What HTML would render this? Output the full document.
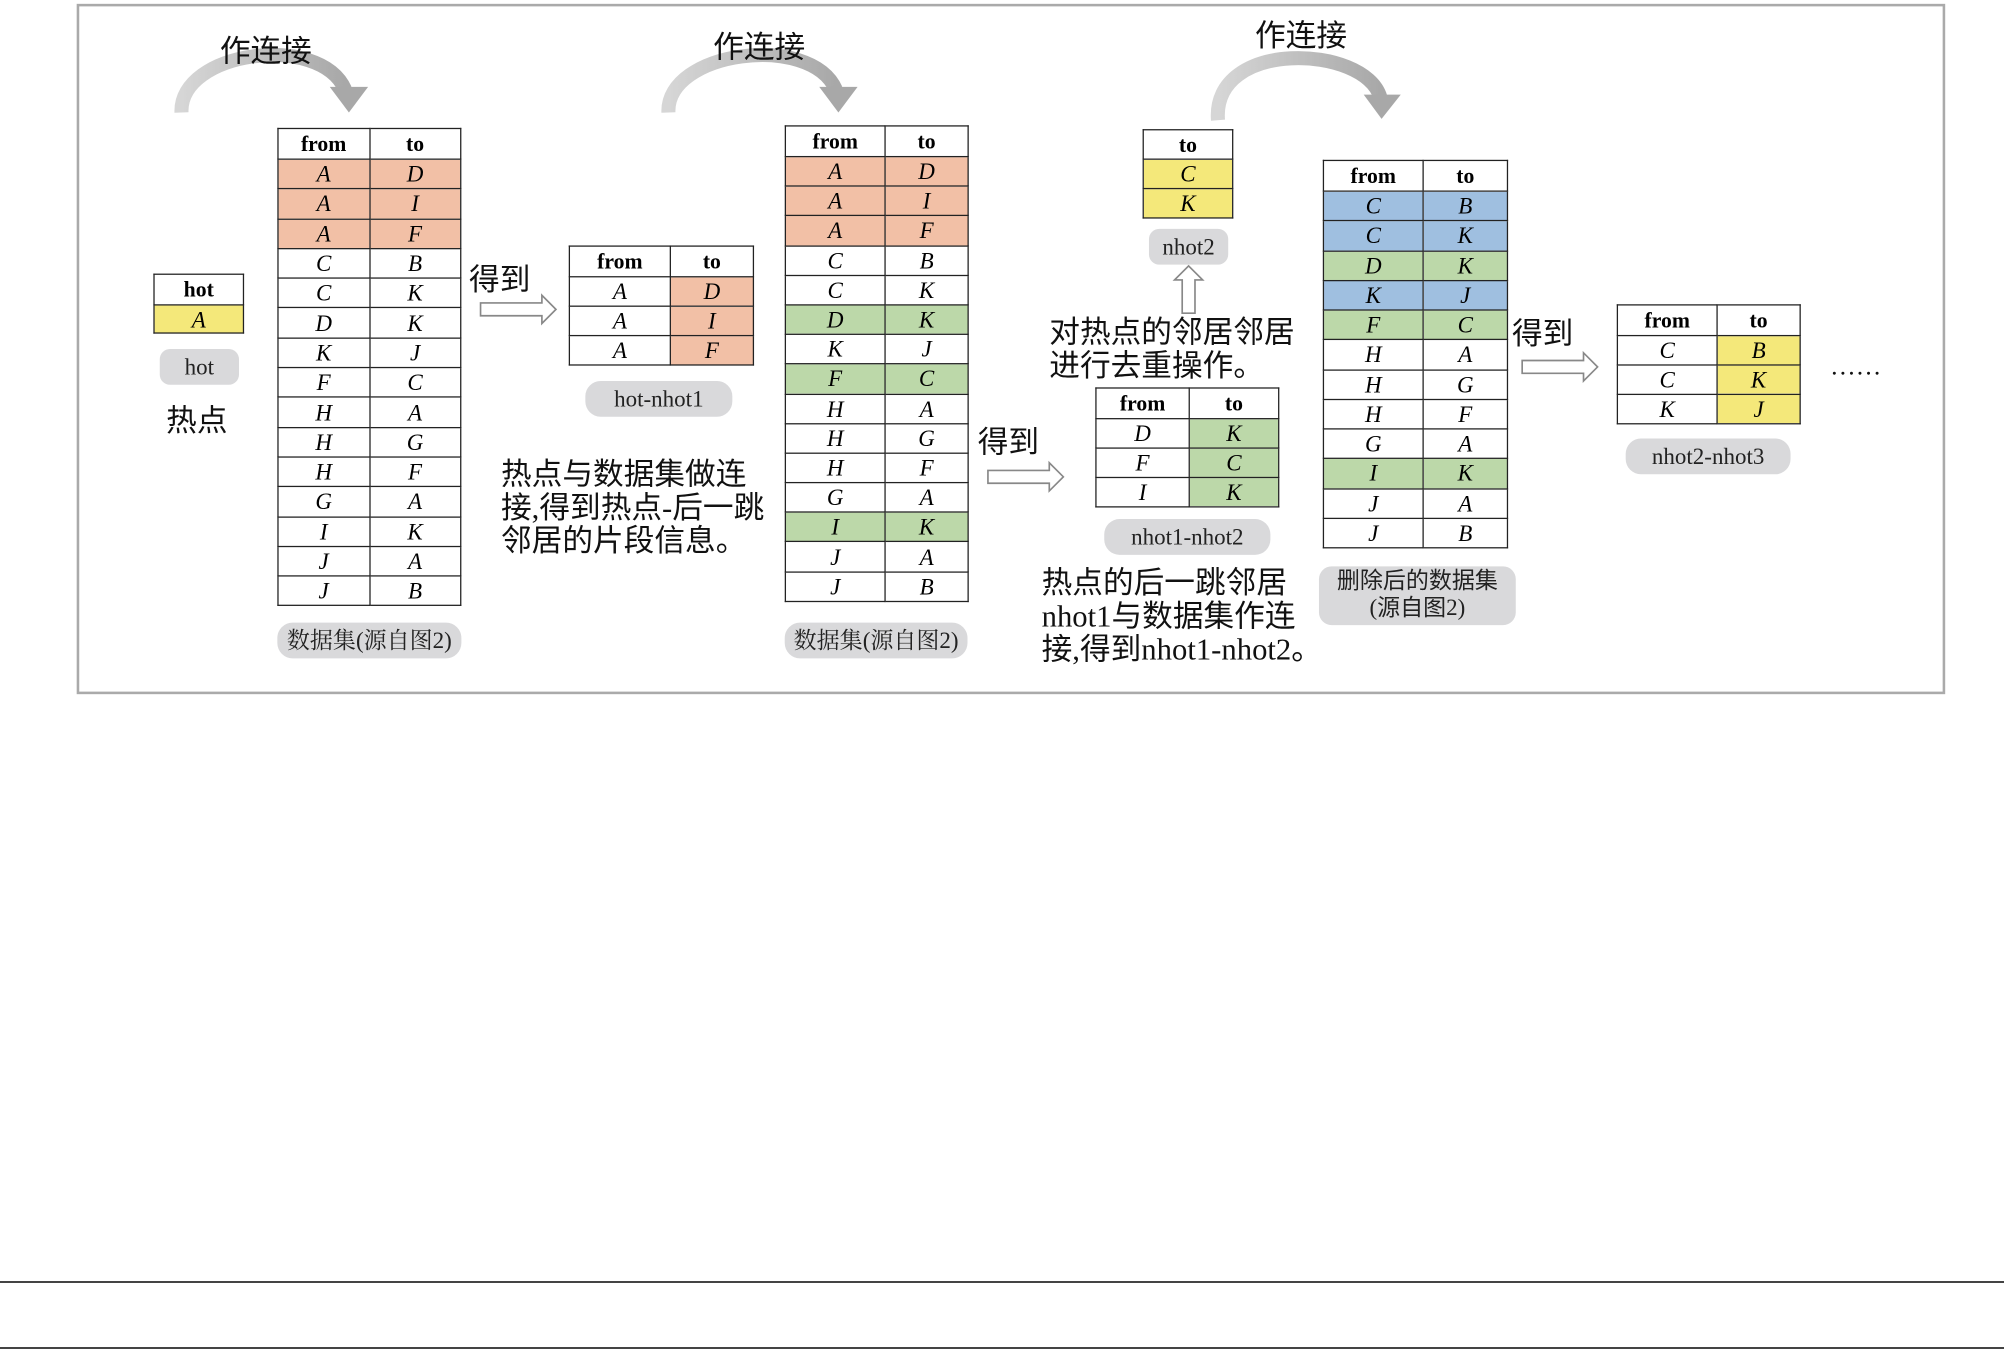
<!DOCTYPE html>
<html><head><meta charset="utf-8"><style>
html,body{margin:0;padding:0;background:#fff;}
body{width:2004px;height:1350px;overflow:hidden;position:relative;}
#c{position:absolute;left:0;top:0;width:1568px;height:1056px;transform:scale(1.27806,1.2784);transform-origin:0 0;font-family:"Liberation Serif","Noto Serif CJK SC",serif;}
.a{position:absolute;}
table{position:absolute;border-collapse:collapse;table-layout:fixed;}
td{border:1.5px solid #222;padding:0;text-align:center;font-size:18px;font-style:italic;line-height:1;overflow:hidden;}
tr.h td{font-style:normal;font-size:17px;font-weight:bold;}
.o{background:#f2c0a6}.y{background:#f4e87a}.g{background:#bcd8a9}.b{background:#9fbfe0}
.pill{position:absolute;background:#d9d9db;border-radius:8px;text-align:center;font-size:18px;color:#222;}
.t{position:absolute;font-family:"Liberation Serif","Noto Sans CJK SC",sans-serif;font-size:24px;line-height:26px;color:#111;white-space:nowrap;}
</style></head><body>
<div class="a" style="left:0;top:1281px;width:2004px;height:2px;background:#444"></div>
<div class="a" style="left:0;top:1347px;width:2004px;height:2px;background:#444"></div>
<div id="c">
<div class="a" style="left:60px;top:3px;width:1458px;height:536px;border:2px solid #aaa"></div>
<svg class="a" style="left:0;top:0" width="1568" height="560">
<defs><linearGradient id="gr" x1="0" x2="1" y1="0" y2="0"><stop offset="0" stop-color="#d6d6d6"/><stop offset="1" stop-color="#a8a8a8"/></linearGradient></defs>
<g fill="none" stroke="url(#gr)" stroke-width="11">
<path d="M142,88 C140,40 250,25 270,70"/>
<path d="M523,88 C521,40 634,25 654,70"/>
<path d="M953,94 C948,30 1068,35 1080,76"/>
</g>
<g fill="#a8a8a8">
<polygon points="258,68 288,68 273,88"/>
<polygon points="641,68 671,68 656,88"/>
<polygon points="1067,74 1096,74 1081,93"/>
</g>
<g fill="#fff" stroke="#888" stroke-width="1.3">
<polygon points="376,237 424,237 424,231 435,242 424,253 424,247 376,247"/>
<polygon points="773,368 821,368 821,362 832,373 821,384 821,378 773,378"/>
<polygon points="1191,282 1239,282 1239,276 1250,287 1239,298 1239,292 1191,292"/>
<polygon points="925,245 925,219 919,219 930,208 941,219 935,219 935,245"/>
</g>
</svg>
<div class="t" style="left:172px;top:28px;">作连接</div>
<div class="t" style="left:558px;top:25px;">作连接</div>
<div class="t" style="left:982px;top:16px;">作连接</div>

<table style="left:120px;top:214px;width:71px;"><tr class="h" style="height:24px"><td>hot</td></tr><tr style="height:22px"><td class="y">A</td></tr></table>
<div class="pill" style="left:125px;top:273px;width:62px;height:28px;line-height:28px">hot</div>
<div class="t" style="left:130px;top:317px;">热点</div>

<table style="left:217px;top:100px;width:144px;">
<tr class="h" style="height:24px"><td>from</td><td>to</td></tr>
<tr style="height:23.3px"><td class="o">A</td><td class="o">D</td></tr>
<tr style="height:23.3px"><td class="o">A</td><td class="o">I</td></tr>
<tr style="height:23.3px"><td class="o">A</td><td class="o">F</td></tr>
<tr style="height:23.3px"><td>C</td><td>B</td></tr>
<tr style="height:23.3px"><td>C</td><td>K</td></tr>
<tr style="height:23.3px"><td>D</td><td>K</td></tr>
<tr style="height:23.3px"><td>K</td><td>J</td></tr>
<tr style="height:23.3px"><td>F</td><td>C</td></tr>
<tr style="height:23.3px"><td>H</td><td>A</td></tr>
<tr style="height:23.3px"><td>H</td><td>G</td></tr>
<tr style="height:23.3px"><td>H</td><td>F</td></tr>
<tr style="height:23.3px"><td>G</td><td>A</td></tr>
<tr style="height:23.3px"><td>I</td><td>K</td></tr>
<tr style="height:23.3px"><td>J</td><td>A</td></tr>
<tr style="height:23.3px"><td>J</td><td>B</td></tr>
</table>
<div class="pill" style="left:217px;top:487px;width:144px;height:28px;line-height:28px;border-radius:12px">数据集(源自图2)</div>

<div class="t" style="left:367px;top:207px;">得到</div>
<table style="left:445px;top:192px;width:144px;">
<colgroup><col style="width:79px"><col style="width:65px"></colgroup>
<tr class="h" style="height:24px"><td>from</td><td>to</td></tr>
<tr style="height:23px"><td>A</td><td class="o">D</td></tr>
<tr style="height:23px"><td>A</td><td class="o">I</td></tr>
<tr style="height:23px"><td>A</td><td class="o">F</td></tr>
</table>
<div class="pill" style="left:458px;top:298px;width:115px;height:28px;line-height:28px;border-radius:12px">hot-nhot1</div>
<div class="t" style="left:392px;top:359px;">热点与数据集做连<br>接,得到热点-后一跳<br>邻居的片段信息。</div>

<table style="left:614px;top:98px;width:143px;">
<colgroup><col style="width:78px"><col style="width:65px"></colgroup>
<tr class="h" style="height:24px"><td>from</td><td>to</td></tr>
<tr style="height:23.2px"><td class="o">A</td><td class="o">D</td></tr>
<tr style="height:23.2px"><td class="o">A</td><td class="o">I</td></tr>
<tr style="height:23.2px"><td class="o">A</td><td class="o">F</td></tr>
<tr style="height:23.2px"><td>C</td><td>B</td></tr>
<tr style="height:23.2px"><td>C</td><td>K</td></tr>
<tr style="height:23.2px"><td class="g">D</td><td class="g">K</td></tr>
<tr style="height:23.2px"><td>K</td><td>J</td></tr>
<tr style="height:23.2px"><td class="g">F</td><td class="g">C</td></tr>
<tr style="height:23.2px"><td>H</td><td>A</td></tr>
<tr style="height:23.2px"><td>H</td><td>G</td></tr>
<tr style="height:23.2px"><td>H</td><td>F</td></tr>
<tr style="height:23.2px"><td>G</td><td>A</td></tr>
<tr style="height:23.2px"><td class="g">I</td><td class="g">K</td></tr>
<tr style="height:23.2px"><td>J</td><td>A</td></tr>
<tr style="height:23.2px"><td>J</td><td>B</td></tr>
</table>
<div class="pill" style="left:614px;top:487px;width:143px;height:28px;line-height:28px;border-radius:12px">数据集(源自图2)</div>

<div class="t" style="left:765px;top:334px;">得到</div>
<table style="left:857px;top:303px;width:143px;">
<colgroup><col style="width:73px"><col style="width:70px"></colgroup>
<tr class="h" style="height:24px"><td>from</td><td>to</td></tr>
<tr style="height:23px"><td>D</td><td class="g">K</td></tr>
<tr style="height:23px"><td>F</td><td class="g">C</td></tr>
<tr style="height:23px"><td>I</td><td class="g">K</td></tr>
</table>
<div class="pill" style="left:864px;top:406px;width:130px;height:28px;line-height:28px;border-radius:12px">nhot1-nhot2</div>
<div class="t" style="left:815px;top:444px;">热点的后一跳邻居<br>nhot1与数据集作连<br>接,得到nhot1-nhot2。</div>

<table style="left:894px;top:101px;width:71px;">
<tr class="h" style="height:23px"><td>to</td></tr>
<tr style="height:23px"><td class="y">C</td></tr>
<tr style="height:23px"><td class="y">K</td></tr>
</table>
<div class="pill" style="left:899px;top:179px;width:62px;height:28px;line-height:28px">nhot2</div>
<div class="t" style="left:821px;top:248px;">对热点的邻居邻居<br>进行去重操作。</div>

<table style="left:1035px;top:125px;width:144px;">
<colgroup><col style="width:78px"><col style="width:66px"></colgroup>
<tr class="h" style="height:24px"><td>from</td><td>to</td></tr>
<tr style="height:23.25px"><td class="b">C</td><td class="b">B</td></tr>
<tr style="height:23.25px"><td class="b">C</td><td class="b">K</td></tr>
<tr style="height:23.25px"><td class="g">D</td><td class="g">K</td></tr>
<tr style="height:23.25px"><td class="b">K</td><td class="b">J</td></tr>
<tr style="height:23.25px"><td class="g">F</td><td class="g">C</td></tr>
<tr style="height:23.25px"><td>H</td><td>A</td></tr>
<tr style="height:23.25px"><td>H</td><td>G</td></tr>
<tr style="height:23.25px"><td>H</td><td>F</td></tr>
<tr style="height:23.25px"><td>G</td><td>A</td></tr>
<tr style="height:23.25px"><td class="g">I</td><td class="g">K</td></tr>
<tr style="height:23.25px"><td>J</td><td>A</td></tr>
<tr style="height:23.25px"><td>J</td><td>B</td></tr>
</table>
<div class="pill" style="left:1032px;top:443px;width:154px;height:45px;line-height:21px;padding-top:1px;border-radius:10px;font-family:'Liberation Serif','Noto Sans CJK SC',sans-serif;font-size:18px">删除后的数据集<br>(源自图2)</div>

<div class="t" style="left:1183px;top:249px;">得到</div>
<table style="left:1265px;top:238px;width:143px;">
<colgroup><col style="width:78px"><col style="width:65px"></colgroup>
<tr class="h" style="height:24px"><td>from</td><td>to</td></tr>
<tr style="height:23px"><td>C</td><td class="y">B</td></tr>
<tr style="height:23px"><td>C</td><td class="y">K</td></tr>
<tr style="height:23px"><td>K</td><td class="y">J</td></tr>
</table>
<div class="pill" style="left:1272px;top:343px;width:129px;height:28px;line-height:28px;border-radius:12px">nhot2-nhot3</div>
<div class="t" style="left:1432px;top:274px;font-size:20px">……</div>
</div>
</body></html>
